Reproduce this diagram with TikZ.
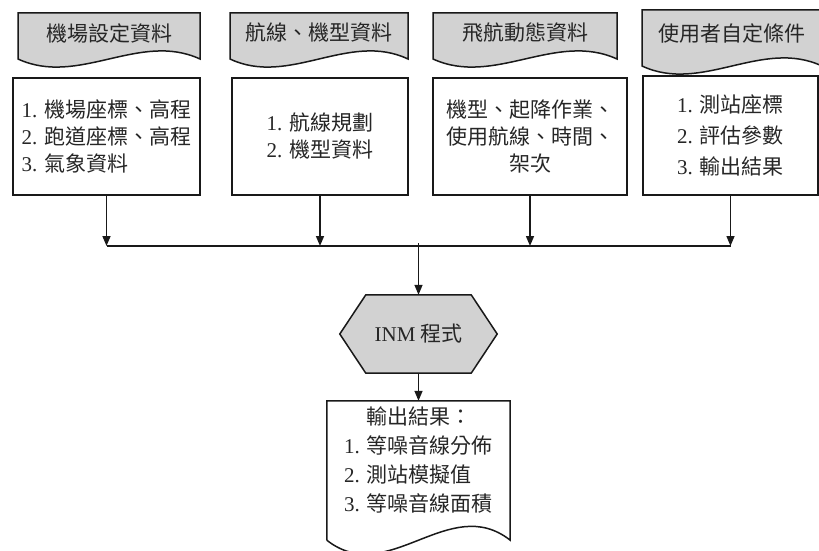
\documentclass[tikz,border=0pt]{standalone}
\usepackage{fontspec}
\setmainfont{Noto Sans CJK TC}
\newfontfamily\tnr{Liberation Serif}
\newcommand{\nr}[1]{{\tnr #1. }}
\usetikzlibrary{arrows.meta,calc,backgrounds}

\begin{document}
\begin{tikzpicture}[x=1pt,y=-1pt,
    line/.style={line width=1.5pt, draw=black!90},
    arr/.style={line, -{Triangle[length=10pt,width=8pt]}},
    hdr/.style={line, fill=gray!35},
    lbl/.style={inner sep=0pt, text=black!85, font=\fontsize{21}{27}\selectfont},
    box/.style={line, lbl}]
    \useasboundingbox (0,0) rectangle (819,551);

    \foreach \i/\xa/\xb/\ya/\yb/\txt in {1/18/200/13/59/機場設定資料, 2/230/408/13/59/航線、機型資料,
        3/433/617/13/59/飛航動態資料, 4/642/822/10/66/使用者自定條件} {
      \filldraw[hdr] (\xa,\ya) -- (\xb,\ya) -- (\xb,\yb)
        .. controls ({\xb-(\xb-\xa)/3},\yb-28) and ({\xa+(\xb-\xa)/3},\yb+28) .. (\xa,\yb) -- cycle;
      \node[lbl] (hdr\i) at ({(\xa+\xb)/2},33) {\txt};
    }

    \node[box, minimum width=187pt, minimum height=117pt, align=left] (air) at (106.5,136.5)
      {\nr1機場座標、高程\\ \nr2跑道座標、高程\\ \nr3氣象資料};
    \node[box, minimum width=176pt, minimum height=117pt, align=left] (route) at (320,136.5)
      {\nr1航線規劃\\ \nr2機型資料};
    \node[box, minimum width=194pt, minimum height=117pt, align=center] (flight) at (530,136.5)
      {機型、起降作業、\\使用航線、時間、\\架次};
    \node[box, minimum width=175pt, minimum height=119pt, align=left,
      font=\fontsize{21}{31}\selectfont] (user) at (730.5,135.5)
      {\nr1測站座標\\ \nr2評估參數\\ \nr3輸出結果};

    \node[lbl, minimum width=157pt, minimum height=78pt] (inm) at (418.5,334) {{\tnr INM} 程式};
    \begin{scope}[on background layer]
      \filldraw[hdr] (inm.west) -- ($(inm.north west)+(26,0)$) -- ($(inm.north east)+(-26,0)$)
        -- (inm.east) -- ($(inm.south east)+(-26,0)$) -- ($(inm.south west)+(26,0)$) -- cycle;
    \end{scope}

    \node[minimum width=183pt, minimum height=139pt, inner sep=0pt] (outbox) at (418.5,470.5) {};
    \draw[line] (outbox.south west) -- (outbox.north west) -- (outbox.north east) -- (outbox.south east)
      .. controls ($(outbox.south east)+(-61,-48)$) and ($(outbox.south west)+(61,48)$) .. (outbox.south west);
    \node[lbl, font=\fontsize{21}{29}\selectfont] (outtext) at ($(outbox.center)+(0,-8)$)
      {\begin{tabular}{@{}l@{}}\multicolumn{1}{@{}c@{}}{輸出結果：}\\ \nr1等噪音線分佈\\
        \nr2測站模擬值\\ \nr3等噪音線面積\end{tabular}};

    \coordinate (bus) at (418.5,246);
    \draw[line] (air.south |- bus) -- (user.south |- bus);
    \foreach \n in {air,route,flight,user}
      \draw[arr] (\n.south) -- (\n.south |- bus);
    \draw[arr] ([yshift=3pt]bus) -- (inm.north);
    \draw[arr] (inm.south) -- (outbox.north);
\end{tikzpicture}
\end{document}
